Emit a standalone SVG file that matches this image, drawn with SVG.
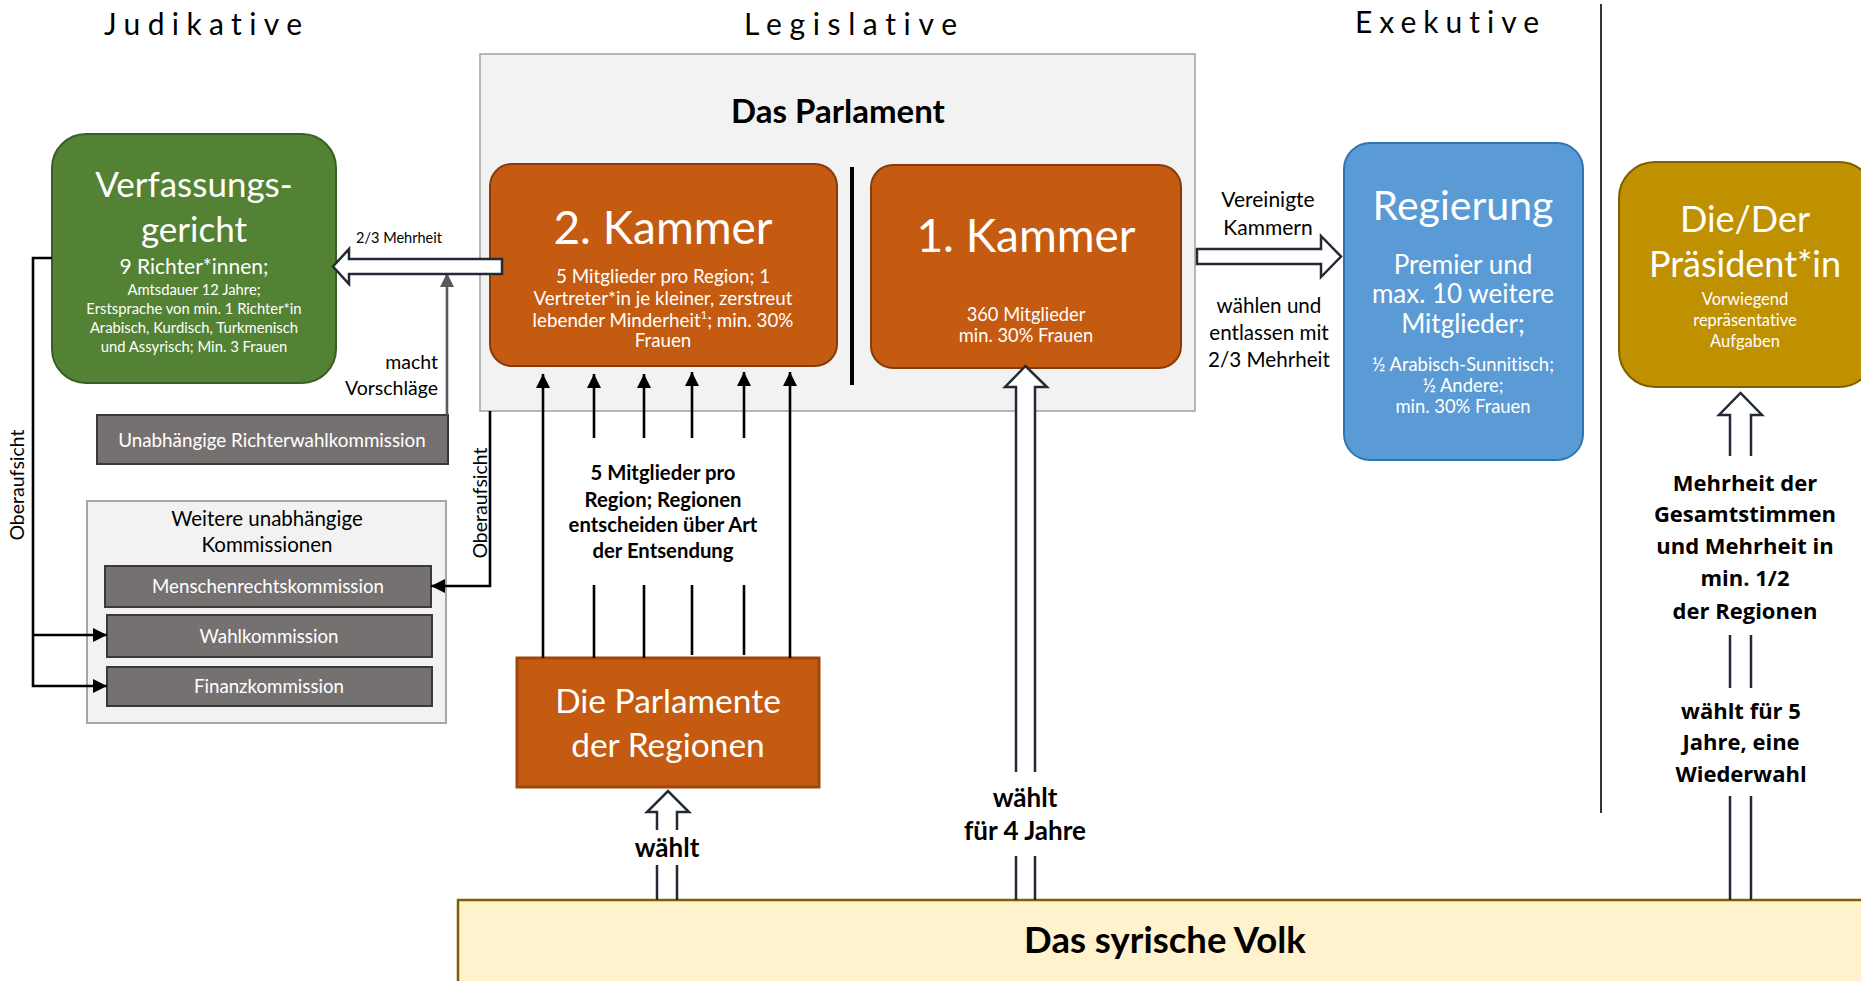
<svg xmlns="http://www.w3.org/2000/svg" width="1861" height="981" viewBox="0 0 1861 981">
<style>
text{font-family:Lato,"Open Sans","DejaVu Sans",sans-serif;font-variant-ligatures:none;}
.w{fill:#fff;text-anchor:middle;}
.k{fill:#000;text-anchor:middle;}
.b{font-weight:bold;}
.ob{font-family:"Open Sans",Lato,sans-serif;font-weight:bold;fill:#000;text-anchor:middle;font-size:22px;}
.hd{font-size:30px;fill:#000;font-weight:normal;}
.gray{fill:#767171;stroke:#3b3838;stroke-width:2;}
.orange{fill:#c55a11;stroke:#843c0c;stroke-width:2;}
.ln{fill:none;stroke:#000;stroke-width:2.6;}
.hol{fill:#fff;stroke:#222a35;stroke-width:2.5;}
.sh{fill:none;stroke:#222a35;stroke-width:2.5;}
</style>
<defs>
<marker id="ab" markerUnits="userSpaceOnUse" viewBox="0 0 14 14" refX="14" refY="7" markerWidth="14" markerHeight="14" orient="auto"><path d="M0,0 L14,7 L0,14 Z" fill="#000"/></marker>
<marker id="ag" markerUnits="userSpaceOnUse" viewBox="0 0 14 14" refX="14" refY="7" markerWidth="14" markerHeight="14" orient="auto"><path d="M0,0 L14,7 L0,14 Z" fill="#595959"/></marker>
</defs>
<rect width="1861" height="981" fill="#fff"/>

<g id="headings">
<text class="hd" x="104" y="35" textLength="198" lengthAdjust="spacing">Judikative</text>
<text class="hd" x="744" y="35" textLength="213" lengthAdjust="spacing">Legislative</text>
<text class="hd" x="1355" y="33" textLength="184" lengthAdjust="spacing">Exekutive</text>
</g>

<g id="dividers">
<line x1="1601" y1="4" x2="1601" y2="813" stroke="#000" stroke-width="1.6"/>
</g>

<g id="parlament">
<rect x="480" y="54" width="715" height="357" fill="#f2f2f2" stroke="#a6a6a6" stroke-width="1.6"/>
<text class="k b" x="838" y="123" font-size="33">Das Parlament</text>
<line x1="852" y1="167" x2="852" y2="385" stroke="#000" stroke-width="4"/>
</g>

<g id="kammer2">
<rect class="orange" x="490" y="164" width="347" height="202" rx="22"/>
<text class="w" x="663" y="244" font-size="46">2. Kammer</text>
<text class="w" font-size="18.8"><tspan x="663" y="283">5 Mitglieder pro Region; 1</tspan><tspan x="663" y="305">Vertreter*in je kleiner, zerstreut</tspan><tspan x="663" y="327">lebender Minderheit<tspan font-size="11" dy="-8">1</tspan><tspan dy="8">; min. 30%</tspan></tspan><tspan x="663" y="347">Frauen</tspan></text>
</g>

<g id="kammer1">
<rect class="orange" x="871" y="165" width="310" height="203" rx="22"/>
<text class="w" x="1026" y="252" font-size="46">1. Kammer</text>
<text class="w" font-size="18.3"><tspan x="1026" y="321">360 Mitglieder</tspan><tspan x="1026" y="342">min. 30% Frauen</tspan></text>
</g>

<g id="verfassungsgericht">
<rect x="52" y="134" width="284" height="249" rx="34" fill="#548235" stroke="#3b5e24" stroke-width="2"/>
<text class="w" x="194" y="197" font-size="35">Verfassungs-</text>
<text class="w" x="194" y="242" font-size="35">gericht</text>
<text class="w" x="194" y="274" font-size="21">9 Richter*innen;</text>
<text class="w" font-size="14.8"><tspan x="194" y="295">Amtsdauer 12 Jahre;</tspan><tspan x="194" y="314">Erstsprache von min. 1 Richter*in</tspan><tspan x="194" y="333">Arabisch, Kurdisch, Turkmenisch</tspan><tspan x="194" y="352">und Assyrisch; Min. 3 Frauen</tspan></text>
</g>

<g id="richterwahlkommission">
<rect class="gray" x="97" y="415" width="351" height="49"/>
<text class="w" x="272" y="447" font-size="18.8" fill="#f2f2f2">Unabhängige Richterwahlkommission</text>
</g>

<g id="weitere-kommissionen">
<rect x="87" y="501" width="359" height="222" fill="#f2f2f2" stroke="#a6a6a6" stroke-width="2"/>
<text class="k" font-size="20.5"><tspan x="267" y="526">Weitere unabhängige</tspan><tspan x="267" y="552">Kommissionen</tspan></text>
</g>
<g id="menschenrechtskommission">
<rect class="gray" x="105" y="566" width="326" height="41"/>
<text class="w" x="268" y="593" font-size="18.7">Menschenrechtskommission</text>
</g>
<g id="wahlkommission">
<rect class="gray" x="107" y="615" width="325" height="42"/>
<text class="w" x="269" y="643" font-size="18.7">Wahlkommission</text>
</g>
<g id="finanzkommission">
<rect class="gray" x="107" y="667" width="325" height="39"/>
<text class="w" x="269" y="693" font-size="18.7">Finanzkommission</text>
</g>

<g id="regionen">
<rect x="517" y="658" width="302" height="129" fill="#c55a11" stroke="#a0460f" stroke-width="3"/>
<text class="w" font-size="33.5"><tspan x="668" y="713">Die Parlamente</tspan><tspan x="668" y="757">der Regionen</tspan></text>
</g>

<g id="regierung">
<rect x="1344" y="143" width="239" height="317" rx="26" fill="#5b9bd5" stroke="#2e75b6" stroke-width="2"/>
<text class="w" x="1463" y="220" font-size="41">Regierung</text>
<text class="w" font-size="26"><tspan x="1463" y="274">Premier und</tspan><tspan x="1463" y="303">max. 10 weitere</tspan><tspan x="1463" y="333">Mitglieder;</tspan></text>
<text class="w" font-size="18.4"><tspan x="1463" y="371">½ Arabisch-Sunnitisch;</tspan><tspan x="1463" y="392">½ Andere;</tspan><tspan x="1463" y="413">min. 30% Frauen</tspan></text>
</g>

<g id="praesident">
<rect x="1619" y="162" width="256" height="225" rx="36" fill="#bf9000" stroke="#7f6000" stroke-width="2"/>
<text class="w" font-size="36"><tspan x="1745" y="232">Die/Der</tspan><tspan x="1745" y="277">Präsident*in</tspan></text>
<text class="w" font-size="16.5"><tspan x="1745" y="305">Vorwiegend</tspan><tspan x="1745" y="326">repräsentative</tspan><tspan x="1745" y="347">Aufgaben</tspan></text>
</g>

<g id="volk">
<rect x="458" y="900" width="1420" height="100" fill="#fff2cc" stroke="#7f6000" stroke-width="2.5"/>
<text class="k b" x="1165" y="953" font-size="36.5">Das syrische Volk</text>
</g>

<g id="connectors">
<path class="ln" d="M543,658 V374" marker-end="url(#ab)"/>
<path class="ln" d="M594,438 V374" marker-end="url(#ab)"/>
<path class="ln" d="M644,438 V374" marker-end="url(#ab)"/>
<path class="ln" d="M692,438 V372" marker-end="url(#ab)"/>
<path class="ln" d="M744,438 V372" marker-end="url(#ab)"/>
<path class="ln" d="M790,658 V372" marker-end="url(#ab)"/>
<path class="ln" d="M594,585 V658 M644,585 V658 M692,585 V655 M744,585 V655"/>
<text class="k b" font-size="20.3"><tspan x="663" y="480">5 Mitglieder pro</tspan><tspan x="663" y="507">Region; Regionen</tspan><tspan x="663" y="532">entscheiden über Art</tspan><tspan x="663" y="558">der Entsendung</tspan></text>

<path class="ln" d="M52,258 H33 V686 H107" marker-end="url(#ab)"/>
<path class="ln" d="M33,635 H107" marker-end="url(#ab)"/>
<text class="k" font-size="19.5" transform="translate(24,485) rotate(-90)">Oberaufsicht</text>

<path class="ln" d="M490,411 V586 H431" marker-end="url(#ab)"/>
<text class="k" font-size="19.5" transform="translate(487,503) rotate(-90)">Oberaufsicht</text>

<path d="M447,415 V273" fill="none" stroke="#595959" stroke-width="2.6" marker-end="url(#ag)"/>
<text font-size="19.5" fill="#000" text-anchor="end"><tspan x="438" y="369">macht</tspan><tspan x="438" y="395">Vorschläge</tspan></text>

<polygon class="hol" points="502,259 349,259 349,249 333,266.5 349,284 349,274 502,274"/>
<text class="k" x="399" y="243" font-size="14.5">2/3 Mehrheit</text>

<polygon class="hol" points="1197,249 1321,249 1321,236 1341,256.5 1321,277 1321,264 1197,264"/>
<text class="k" font-size="21"><tspan x="1268" y="207">Vereinigte</tspan><tspan x="1268" y="235">Kammern</tspan></text>
<text class="k" font-size="20.6"><tspan x="1269" y="313">wählen und</tspan><tspan x="1269" y="340">entlassen mit</tspan><tspan x="1269" y="367">2/3 Mehrheit</tspan></text>

<path class="hol" d="M1016,772 V387 H1005 L1025.5,366 L1047,387 H1035 V772"/>
<path class="sh" d="M1016,856 V900 M1035,856 V900"/>
<text class="k b" font-size="26"><tspan x="1025" y="807">wählt</tspan><tspan x="1025" y="840">für 4 Jahre</tspan></text>

<path class="hol" d="M657,830 V812 H647 L668,791 L689,812 H677 V830"/>
<path class="sh" d="M657,865 V900 M677,865 V900"/>
<text class="k b" x="667" y="857" font-size="26">wählt</text>

<path class="hol" d="M1730,456 V415 H1719 L1740.5,393 L1762,415 H1751 V456"/>
<path class="sh" d="M1730,635 V688 M1751,635 V688 M1730,796 V900 M1751,796 V900"/>
<text class="ob"><tspan x="1745" y="491">Mehrheit der</tspan><tspan x="1745" y="522">Gesamtstimmen</tspan><tspan x="1745" y="554">und Mehrheit in</tspan><tspan x="1745" y="586">min. 1/2</tspan><tspan x="1745" y="619">der Regionen</tspan></text>
<text class="ob"><tspan x="1741" y="719">wählt für 5</tspan><tspan x="1741" y="750">Jahre, eine</tspan><tspan x="1741" y="782">Wiederwahl</tspan></text>
</g>
</svg>
